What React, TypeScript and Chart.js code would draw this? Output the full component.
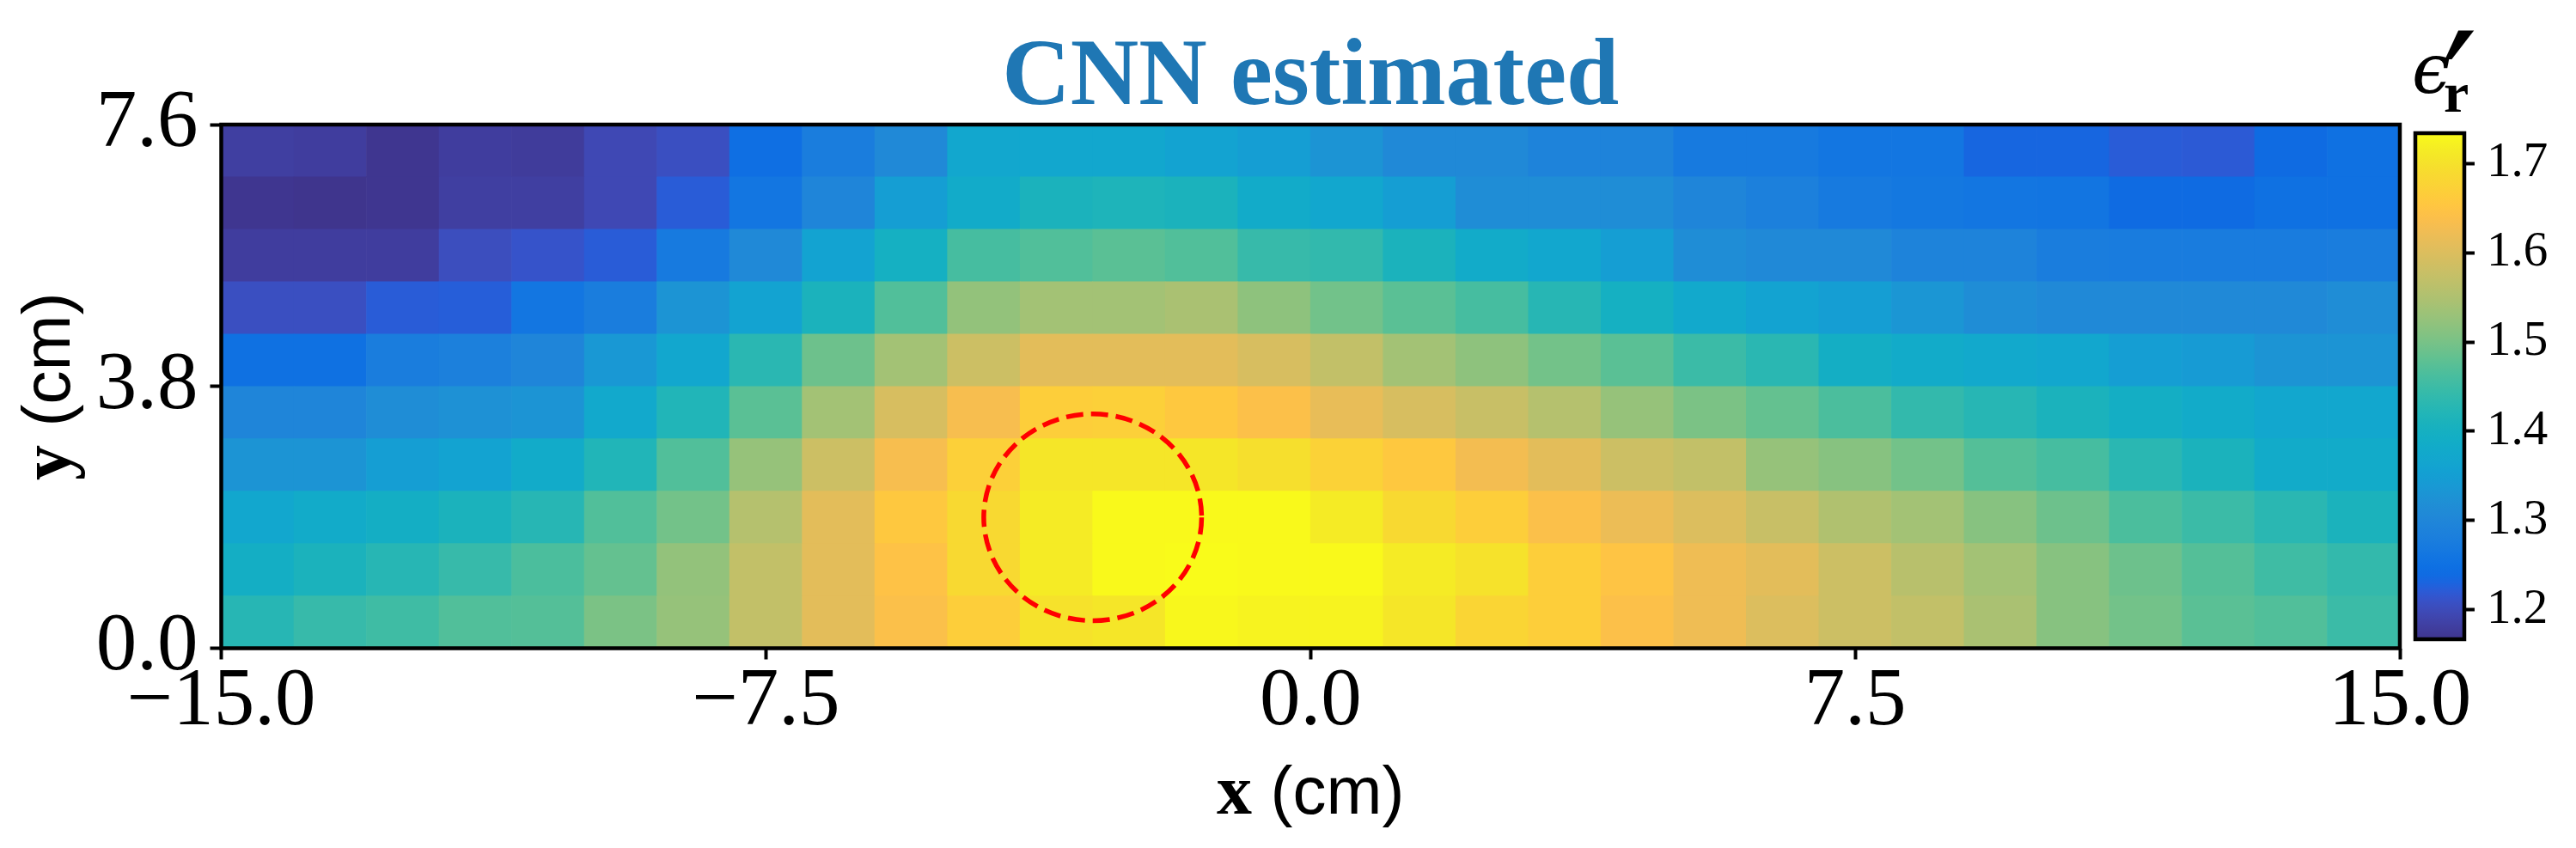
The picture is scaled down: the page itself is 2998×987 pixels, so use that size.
import React, { useEffect, useRef } from "react";
import { Chart, registerables } from "chart.js";

Chart.register(...registerables);

// ---------------- data ----------------
const TITLE = "CNN estimated";
const X_LABEL_VAR = "x";
const Y_LABEL_VAR = "y";
const AXIS_UNIT = " (cm)";

const X_TICKS = [-15, -7.5, 0, 7.5, 15];
const Y_TICKS = [0, 3.8, 7.6];
const CB_TICKS = [1.2, 1.3, 1.4, 1.5, 1.6, 1.7];

const X_MIN = -15;
const X_MAX = 15;
const Y_MIN = 0;
const Y_MAX = 7.6;
const V_MIN = 1.167;
const V_MAX = 1.734;

const CELL_H = 0.76;
const X_CENTERS = [
  -14.5, -13.5, -12.5, -11.5, -10.5, -9.5, -8.5, -7.5, -6.5, -5.5,
  -4.5, -3.5, -2.5, -1.5, -0.5, 0.5, 1.5, 2.5, 3.5, 4.5,
  5.5, 6.5, 7.5, 8.5, 9.5, 10.5, 11.5, 12.5, 13.5, 14.5,
];
const Y_CENTERS = [0.38, 1.14, 1.9, 2.66, 3.42, 4.18, 4.94, 5.7, 6.46, 7.22];

// estimated permittivity, one array per row (bottom row first in Y_CENTERS order)
const EPS_Y038 = [1.426, 1.444, 1.453, 1.469, 1.471, 1.503, 1.526, 1.571, 1.609, 1.640, 1.667, 1.702, 1.707, 1.730, 1.725, 1.725, 1.707, 1.680, 1.667, 1.641, 1.623, 1.600, 1.582, 1.571, 1.545, 1.513, 1.496, 1.476, 1.469, 1.449];
const EPS_Y114 = [1.394, 1.410, 1.426, 1.444, 1.464, 1.484, 1.523, 1.571, 1.609, 1.645, 1.687, 1.714, 1.732, 1.734, 1.732, 1.732, 1.714, 1.702, 1.667, 1.649, 1.623, 1.609, 1.582, 1.560, 1.538, 1.513, 1.491, 1.471, 1.453, 1.440];
const EPS_Y190 = [1.370, 1.383, 1.394, 1.410, 1.426, 1.469, 1.496, 1.557, 1.609, 1.657, 1.687, 1.714, 1.732, 1.732, 1.732, 1.714, 1.687, 1.667, 1.640, 1.619, 1.600, 1.577, 1.552, 1.538, 1.513, 1.491, 1.464, 1.449, 1.430, 1.410];
const EPS_Y266 = [1.330, 1.330, 1.348, 1.359, 1.383, 1.419, 1.469, 1.526, 1.582, 1.633, 1.670, 1.707, 1.707, 1.707, 1.697, 1.674, 1.657, 1.628, 1.609, 1.582, 1.571, 1.526, 1.513, 1.496, 1.471, 1.459, 1.430, 1.410, 1.383, 1.383];
const EPS_Y342 = [1.298, 1.298, 1.315, 1.323, 1.330, 1.376, 1.419, 1.476, 1.538, 1.595, 1.633, 1.667, 1.670, 1.657, 1.641, 1.614, 1.595, 1.577, 1.557, 1.526, 1.503, 1.484, 1.464, 1.440, 1.426, 1.410, 1.394, 1.383, 1.370, 1.370];
const EPS_Y418 = [1.251, 1.251, 1.279, 1.284, 1.298, 1.337, 1.370, 1.430, 1.491, 1.538, 1.582, 1.609, 1.609, 1.609, 1.595, 1.571, 1.538, 1.519, 1.496, 1.476, 1.449, 1.430, 1.394, 1.383, 1.376, 1.370, 1.348, 1.342, 1.330, 1.330];
const EPS_Y494 = [1.206, 1.206, 1.222, 1.224, 1.261, 1.279, 1.330, 1.359, 1.410, 1.469, 1.523, 1.538, 1.538, 1.545, 1.519, 1.495, 1.476, 1.459, 1.426, 1.399, 1.376, 1.359, 1.348, 1.333, 1.315, 1.308, 1.308, 1.308, 1.308, 1.315];
const EPS_Y570 = [1.180, 1.180, 1.180, 1.204, 1.212, 1.222, 1.270, 1.308, 1.359, 1.399, 1.459, 1.469, 1.476, 1.469, 1.444, 1.439, 1.410, 1.383, 1.370, 1.348, 1.315, 1.308, 1.308, 1.293, 1.293, 1.279, 1.275, 1.275, 1.275, 1.279];
const EPS_Y646 = [1.169, 1.167, 1.169, 1.182, 1.182, 1.196, 1.222, 1.261, 1.298, 1.348, 1.383, 1.410, 1.415, 1.410, 1.383, 1.370, 1.348, 1.315, 1.315, 1.315, 1.298, 1.284, 1.270, 1.265, 1.261, 1.260, 1.240, 1.240, 1.251, 1.251];
const EPS_Y722 = [1.182, 1.180, 1.169, 1.180, 1.178, 1.196, 1.206, 1.246, 1.279, 1.308, 1.370, 1.370, 1.370, 1.359, 1.348, 1.330, 1.308, 1.308, 1.293, 1.293, 1.270, 1.270, 1.261, 1.261, 1.233, 1.233, 1.222, 1.220, 1.240, 1.251];

const ROWS = [EPS_Y038, EPS_Y114, EPS_Y190, EPS_Y266, EPS_Y342, EPS_Y418, EPS_Y494, EPS_Y570, EPS_Y646, EPS_Y722];

// dashed circle marking the true target
const CIRCLE_X = -3.0;
const CIRCLE_Y = 1.9;
const CIRCLE_R = 1.5;

// ---------------- colormap (parula) ----------------
const PARULA: number[][] = [
  [0.2081, 0.1663, 0.5292], [0.2116, 0.1898, 0.5777], [0.2123, 0.2138, 0.6270], [0.2081, 0.2386, 0.6771],
  [0.1959, 0.2645, 0.7279], [0.1707, 0.2919, 0.7792], [0.1253, 0.3242, 0.8303], [0.0591, 0.3598, 0.8683],
  [0.0117, 0.3875, 0.8820], [0.0060, 0.4086, 0.8828], [0.0165, 0.4266, 0.8786], [0.0329, 0.4430, 0.8720],
  [0.0498, 0.4586, 0.8641], [0.0629, 0.4737, 0.8554], [0.0723, 0.4887, 0.8467], [0.0779, 0.5040, 0.8384],
  [0.0793, 0.5200, 0.8312], [0.0749, 0.5375, 0.8263], [0.0641, 0.5570, 0.8240], [0.0488, 0.5772, 0.8228],
  [0.0343, 0.5966, 0.8199], [0.0265, 0.6137, 0.8135], [0.0239, 0.6287, 0.8038], [0.0231, 0.6418, 0.7913],
  [0.0228, 0.6535, 0.7768], [0.0267, 0.6642, 0.7607], [0.0384, 0.6743, 0.7436], [0.0590, 0.6838, 0.7254],
  [0.0843, 0.6928, 0.7062], [0.1133, 0.7015, 0.6859], [0.1453, 0.7098, 0.6646], [0.1801, 0.7177, 0.6424],
  [0.2178, 0.7250, 0.6193], [0.2586, 0.7317, 0.5954], [0.3022, 0.7376, 0.5712], [0.3482, 0.7424, 0.5473],
  [0.3953, 0.7459, 0.5244], [0.4420, 0.7481, 0.5033], [0.4871, 0.7491, 0.4840], [0.5300, 0.7491, 0.4661],
  [0.5709, 0.7485, 0.4494], [0.6099, 0.7473, 0.4337], [0.6473, 0.7456, 0.4188], [0.6834, 0.7435, 0.4044],
  [0.7184, 0.7411, 0.3905], [0.7525, 0.7384, 0.3768], [0.7858, 0.7356, 0.3633], [0.8185, 0.7327, 0.3498],
  [0.8507, 0.7299, 0.3360], [0.8824, 0.7274, 0.3217], [0.9139, 0.7258, 0.3063], [0.9450, 0.7261, 0.2886],
  [0.9739, 0.7314, 0.2666], [0.9938, 0.7455, 0.2403], [0.9990, 0.7653, 0.2164], [0.9955, 0.7861, 0.1967],
  [0.9880, 0.8066, 0.1794], [0.9789, 0.8271, 0.1633], [0.9697, 0.8481, 0.1475], [0.9626, 0.8705, 0.1309],
  [0.9589, 0.8949, 0.1132], [0.9598, 0.9218, 0.0948], [0.9661, 0.9514, 0.0755], [0.9763, 0.9831, 0.0538],
];
const ALPHA = 0.95;

function cmap(t: number): string {
  const tt = Math.max(0, Math.min(1, t)) * (PARULA.length - 1);
  const i = Math.min(PARULA.length - 2, Math.floor(tt));
  const f = tt - i;
  const a = PARULA[i];
  const b = PARULA[i + 1];
  const ch = (k: number) => {
    const c = a[k] + (b[k] - a[k]) * f;
    return Math.round((c * ALPHA + (1 - ALPHA)) * 255);
  };
  return `rgb(${ch(0)},${ch(1)},${ch(2)})`;
}
const colorFor = (v: number) => cmap((v - V_MIN) / (V_MAX - V_MIN));

// ---------------- fonts ----------------
const SERIF = '"Liberation Serif", "DejaVu Serif", serif';
const SANS = '"Liberation Sans", "DejaVu Sans", sans-serif';
const fmt = (v: number) => v.toFixed(1).replace("-", "\u2212");

function drawMixedLabel(ctx: CanvasRenderingContext2D, cx: number, baseline: number, v: string) {
  const varFont = `bold 82px ${SERIF}`;
  const unitFont = `78px ${SANS}`;
  ctx.font = varFont;
  const w1 = ctx.measureText(v).width;
  ctx.font = unitFont;
  const w2 = ctx.measureText(AXIS_UNIT).width;
  const x0 = cx - (w1 + w2) / 2;
  ctx.textAlign = "left";
  ctx.textBaseline = "alphabetic";
  ctx.fillStyle = "#000";
  ctx.font = varFont;
  ctx.fillText(v, x0, baseline);
  ctx.font = unitFont;
  ctx.fillText(AXIS_UNIT, x0 + w1, baseline);
}

// draw a glyph so that its ink box starts at (left, top) and is `h` pixels tall
function fitGlyph(ctx: CanvasRenderingContext2D, ch: string, family: string, left: number, top: number, h: number) {
  const base = 100;
  ctx.font = `${base}px ${family}`;
  const m0 = ctx.measureText(ch);
  const h0 = (m0.actualBoundingBoxAscent || 0) + (m0.actualBoundingBoxDescent || 0);
  const size = h0 > 1 ? Math.max(30, Math.min(300, (base * h) / h0)) : base;
  ctx.font = `${size}px ${family}`;
  const m = ctx.measureText(ch);
  const asc = m.actualBoundingBoxAscent || 0;
  const lft = m.actualBoundingBoxLeft || 0;
  ctx.textAlign = "left";
  ctx.textBaseline = "alphabetic";
  ctx.fillText(ch, left + lft, top + asc);
}

const mainDecor = {
  id: "mainDecor",
  afterDatasetsDraw(chart: any) {
    const { ctx, chartArea: ca, scales } = chart;
    const xs = scales.x;
    const ys = scales.y;
    // dashed circle
    const cx = xs.getPixelForValue(CIRCLE_X);
    const cy = ys.getPixelForValue(CIRCLE_Y);
    const rx = Math.abs(xs.getPixelForValue(CIRCLE_X + CIRCLE_R) - cx);
    const ry = Math.abs(ys.getPixelForValue(CIRCLE_Y + CIRCLE_R) - cy);
    ctx.save();
    ctx.beginPath();
    ctx.ellipse(cx, cy, rx, ry, 0, 0, Math.PI * 2);
    ctx.setLineDash([20, 9]);
    ctx.lineWidth = 5.5;
    ctx.strokeStyle = "#ff0000";
    ctx.stroke();
    ctx.restore();
    // frame
    ctx.save();
    ctx.lineWidth = 4.5;
    ctx.strokeStyle = "#000";
    ctx.strokeRect(ca.left, ca.top, ca.right - ca.left, ca.bottom - ca.top);
    ctx.restore();
  },
  afterDraw(chart: any) {
    const { ctx, chartArea: ca } = chart;
    const midX = (ca.left + ca.right) / 2;
    const midY = (ca.top + ca.bottom) / 2;
    ctx.save();
    ctx.font = `bold 110px ${SERIF}`;
    ctx.fillStyle = "#1f77b4";
    ctx.textAlign = "center";
    ctx.textBaseline = "alphabetic";
    ctx.fillText(TITLE, midX, 121);
    drawMixedLabel(ctx, midX, 947, X_LABEL_VAR);
    ctx.translate(81, midY);
    ctx.rotate(-Math.PI / 2);
    drawMixedLabel(ctx, 0, 0, Y_LABEL_VAR);
    ctx.restore();
  },
};

const cbDecor = {
  id: "cbDecor",
  afterDatasetsDraw(chart: any) {
    const { ctx, chartArea: ca } = chart;
    ctx.save();
    ctx.lineWidth = 4.5;
    ctx.strokeStyle = "#000";
    ctx.strokeRect(ca.left, ca.top, ca.right - ca.left, ca.bottom - ca.top);
    ctx.restore();
  },
  afterDraw(chart: any) {
    const { ctx, chartArea: ca } = chart;
    ctx.save();
    ctx.fillStyle = "#000";
    ctx.textAlign = "left";
    ctx.textBaseline = "alphabetic";
    ctx.font = `italic 80px "DejaVu Serif", serif`;
    ctx.fillText("\u03f5", ca.left - 4, 108);
    // prime: ink box ~ x 2845, y 35..68 on the page (canvas is offset by 2780)
    fitGlyph(ctx, "\u2032", `"DejaVu Serif", serif`, ca.left + 34, 35, 33);
    ctx.font = `bold 66px ${SERIF}`;
    ctx.fillText("r", ca.left + 33, 130);
    ctx.restore();
  },
};

export default function App() {
  const mainRef = useRef<HTMLCanvasElement>(null);
  const cbRef = useRef<HTMLCanvasElement>(null);

  useEffect(() => {
    document.body.style.margin = "0";
    if (!mainRef.current || !cbRef.current) return;

    const tickFont = { family: SERIF, size: 95, lineHeight: 1 };
    const tickGrid = {
      display: true,
      drawOnChartArea: false,
      drawTicks: true,
      tickLength: 13,
      tickWidth: 4,
      tickColor: "#000",
      offset: false,
    };

    const main = new Chart(mainRef.current, {
      type: "bar",
      data: {
        datasets: ROWS.map((vals, r) => ({
          label: `y = ${Y_CENTERS[r]}`,
          data: vals.map((v, c) => ({
            x: X_CENTERS[c],
            y: [Y_CENTERS[r] - CELL_H / 2, Y_CENTERS[r] + CELL_H / 2],
          })),
          backgroundColor: vals.map(colorFor),
          borderWidth: 0,
          grouped: false,
          barPercentage: 1,
          categoryPercentage: 1,
        })),
      } as any,
      options: {
        animation: false,
        responsive: false,
        maintainAspectRatio: false,
        devicePixelRatio: 1,
        layout: { padding: { left: 0, top: 145, right: 205, bottom: 0 } },
        plugins: {
          legend: { display: false },
          title: { display: false },
          tooltip: { enabled: false },
        },
        scales: {
          x: {
            type: "linear",
            min: X_MIN,
            max: X_MAX,
            offset: false,
            afterBuildTicks: (s: any) => {
              s.ticks = X_TICKS.map((value) => ({ value }));
            },
            afterFit: (s: any) => {
              s.height = 232.5;
            },
            ticks: {
              font: tickFont,
              color: "#000",
              padding: 3,
              maxRotation: 0,
              autoSkip: false,
              callback: (v: any) => fmt(Number(v)),
            },
            grid: tickGrid,
            border: { display: false },
          },
          y: {
            type: "linear",
            position: "left",
            min: Y_MIN,
            max: Y_MAX,
            afterBuildTicks: (s: any) => {
              s.ticks = Y_TICKS.map((value) => ({ value }));
            },
            afterFit: (s: any) => {
              s.width = 257.5;
            },
            ticks: {
              font: tickFont,
              color: "#000",
              padding: 14,
              autoSkip: false,
              callback: (v: any) => fmt(Number(v)),
            },
            grid: tickGrid,
            border: { display: false },
          },
        },
      } as any,
      plugins: [mainDecor],
    });

    const cb = new Chart(cbRef.current, {
      type: "bar",
      data: {
        labels: ["colorbar"],
        datasets: [
          {
            data: [[V_MIN, V_MAX]],
            backgroundColor: (c: any) => {
              const ca = c.chart.chartArea;
              if (!ca) return cmap(0.5);
              const g = c.chart.ctx.createLinearGradient(0, ca.bottom, 0, ca.top);
              PARULA.forEach((_, i) => {
                const t = i / (PARULA.length - 1);
                g.addColorStop(t, cmap(t));
              });
              return g;
            },
            borderWidth: 0,
            barPercentage: 1,
            categoryPercentage: 1,
          },
        ],
      } as any,
      options: {
        animation: false,
        responsive: false,
        maintainAspectRatio: false,
        devicePixelRatio: 1,
        layout: { padding: { left: 31, top: 155, right: 0, bottom: 243 } },
        plugins: {
          legend: { display: false },
          title: { display: false },
          tooltip: { enabled: false },
        },
        scales: {
          x: { display: false },
          y: {
            type: "linear",
            position: "right",
            min: V_MIN,
            max: V_MAX,
            afterBuildTicks: (s: any) => {
              s.ticks = CB_TICKS.map((value) => ({ value }));
            },
            afterFit: (s: any) => {
              s.width = 130;
            },
            ticks: {
              font: { family: SERIF, size: 57, lineHeight: 1 },
              color: "#000",
              padding: 14,
              autoSkip: false,
              callback: (v: any) => Number(v).toFixed(1),
            },
            grid: { ...tickGrid, tickLength: 12 },
            border: { display: false },
          },
        },
      } as any,
      plugins: [cbDecor],
    });

    return () => {
      main.destroy();
      cb.destroy();
    };
  }, []);

  return (
    <div style={{ position: "absolute", left: 0, top: 0, width: 2998, height: 987, background: "#fff", overflow: "hidden" }}>
      <canvas
        ref={mainRef}
        width={2998}
        height={987}
        style={{ position: "absolute", left: 0, top: 0, width: 2998, height: 987 }}
      />
      <canvas
        ref={cbRef}
        width={218}
        height={987}
        style={{ position: "absolute", left: 2780, top: 0, width: 218, height: 987 }}
      />
    </div>
  );
}
